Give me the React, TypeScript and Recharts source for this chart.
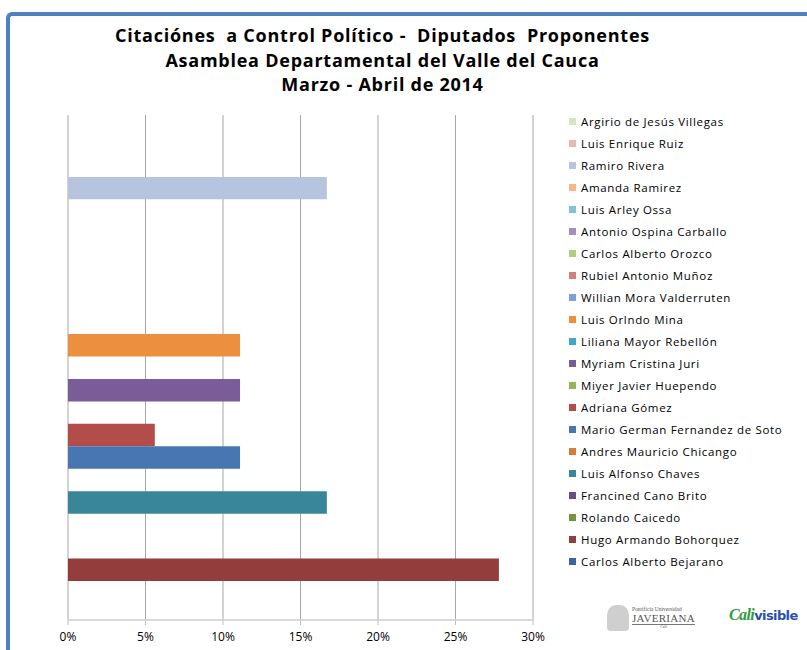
import React from 'react';
import { BarChart, Bar, XAxis, YAxis, CartesianGrid } from 'recharts';

// legend order, top to bottom (also the bar order inside the single category)
const diputados = [
  'Argirio de Jesús Villegas',
  'Luis Enrique Ruiz',
  'Ramiro Rivera',
  'Amanda Ramirez',
  'Luis Arley Ossa',
  'Antonio Ospina Carballo',
  'Carlos Alberto Orozco',
  'Rubiel Antonio Muñoz',
  'Willian Mora Valderruten',
  'Luis Orlndo Mina',
  'Liliana Mayor Rebellón',
  'Myriam Cristina Juri',
  'Miyer Javier Huependo',
  'Adriana Gómez',
  'Mario German Fernandez de Soto',
  'Andres Mauricio Chicango',
  'Luis Alfonso Chaves',
  'Francined Cano Brito',
  'Rolando Caicedo',
  'Hugo Armando Bohorquez',
  'Carlos Alberto Bejarano',
];

const citaciones = [
  0, 0, 0.167, 0, 0, 0, 0, 0, 0, 0.111, 0, 0.111, 0, 0.056, 0.111, 0, 0.167, 0, 0, 0.278, 0,
];

const colores = [
  '#D7E4BD', '#E6B9B8', '#B7C4DF', '#FAB48C', '#80C3D6', '#A28FC0', '#B2CD80',
  '#D28180', '#7FA0D0', '#EC9040', '#40A8C4', '#7A5C99', '#96B553', '#B24D4A',
  '#4776B0', '#D67A3A', '#3A8699', '#644E83', '#76923C', '#943D3D', '#3B64A0',
];

const xTicks = [0, 0.05, 0.1, 0.15, 0.2, 0.25, 0.3];

const categoria = 'Citaciones';

const data = [
  diputados.reduce<Record<string, any>>((row, d, i) => {
    row[d] = citaciones[i];
    return row;
  }, { name: categoria }),
];

const font = '"Open Sans", Roboto, sans-serif';

export default function App() {
  return (
    <div style={{ position: 'absolute', left: 0, top: 0, width: 807, height: 650, overflow: 'hidden', background: '#fff', fontFamily: font }}>
      {/* chart frame */}
      <div style={{ position: 'absolute', left: 6, top: 12, width: 860, height: 700, borderTop: '4px solid #4F81BD', borderLeft: '4px solid #4F81BD', borderTopLeftRadius: 6 }} />

      <div style={{ position: 'absolute', left: 0, top: 23, width: 765, textAlign: 'center', fontWeight: 700, fontSize: 18, lineHeight: '24.5px', letterSpacing: 0.75, color: '#000' }}>
        <div style={{ whiteSpace: 'pre' }}>{'Citaciónes  a Control Político -  Diputados  Proponentes'}</div>
        <div>Asamblea Departamental del Valle del Cauca</div>
        <div>Marzo - Abril de 2014</div>
      </div>

      <div style={{ position: 'absolute', left: 0, top: 0 }}>
        <BarChart
          width={807}
          height={650}
          data={data}
          layout="vertical"
          margin={{ top: 115, right: 274, bottom: 0, left: 68 }}
          barGap={0}
        >
          <CartesianGrid horizontal={false} stroke="#A6A6A6" strokeWidth={1} />
          <XAxis
            type="number"
            domain={[0, 0.3]}
            ticks={xTicks}
            height={30}
            interval={0}
            tickFormatter={(v: number) => `${Math.round(v * 100)}%`}
            axisLine={{ stroke: '#D9D9D9', strokeWidth: 2 }}
            tickLine={{ stroke: '#BFBFBF' }}
            tickSize={5}
            tickMargin={7}
            tick={{ fontSize: 12, fill: '#000', fontFamily: font }}
          />
          <YAxis
            type="category"
            dataKey="name"
            width={0}
            tick={false}
            tickLine={false}
            axisLine={{ stroke: '#D0D0D0', strokeWidth: 2 }}
          />
          {diputados.map((d, i) => (
            <Bar key={d} dataKey={d} fill={colores[i]} barSize={22.45} isAnimationActive={false} />
          ))}
        </BarChart>
      </div>

      {/* legend */}
      <div style={{ position: 'absolute', left: 569, top: 110 }}>
        {diputados.map((d, i) => (
          <div key={d} style={{ height: 22.05, display: 'flex', alignItems: 'center', fontSize: 11.5, letterSpacing: 0.68, color: '#000', whiteSpace: 'nowrap' }}>
            <span style={{ display: 'inline-block', width: 7, height: 7, background: colores[i], marginRight: 5 }} />
            <span>{d}</span>
          </div>
        ))}
      </div>

      {/* logos (approximated as text) */}
      <div style={{ position: 'absolute', left: 607, top: 603, width: 95, height: 30, display: 'flex', alignItems: 'center', color: '#555' }}>
        <div style={{ width: 22, height: 26, background: '#CFCFCF', borderRadius: '40% 40% 4px 4px', marginRight: 3 }} />
        <div style={{ fontFamily: '"Liberation Serif", serif', lineHeight: 1 }}>
          <div style={{ fontSize: 5.5 }}>Pontificia Universidad</div>
          <div style={{ fontSize: 11, letterSpacing: 0.3 }}>JAVERIANA</div>
          <div style={{ fontSize: 4, textAlign: 'center', borderTop: '1px solid #777' }}>Cali</div>
        </div>
      </div>
      <div style={{ position: 'absolute', left: 729, top: 606, whiteSpace: 'nowrap', fontFamily: '"DejaVu Sans", sans-serif', fontWeight: 700, fontSize: 13, letterSpacing: -0.6 }}>
        <span style={{ color: '#2E9E3E', fontStyle: 'italic', fontFamily: '"Liberation Serif", serif', fontSize: 16 }}>Cali</span>
        <span style={{ color: '#2A4FB0' }}>visible</span>
      </div>
    </div>
  );
}
